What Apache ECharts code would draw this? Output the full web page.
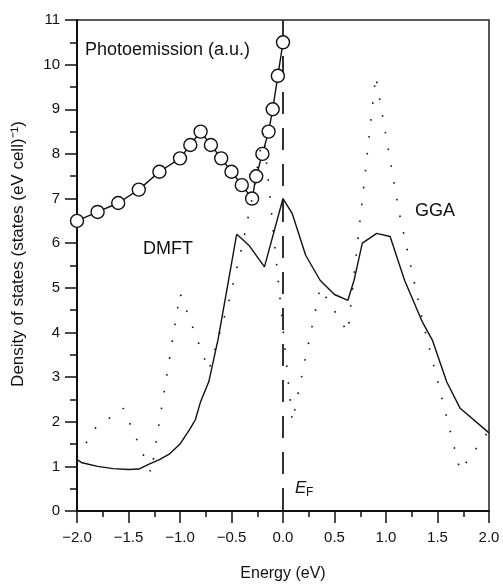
<!DOCTYPE html>
<html>
<head>
<meta charset="utf-8">
<script src="https://cdn.jsdelivr.net/npm/echarts@6/dist/echarts.min.js"></script>
<style>
  html, body { margin: 0; padding: 0; background: #fff; }
  #chart { width: 503px; height: 584px; }
</style>
</head>
<body>
<div id="chart"></div>
<script>
// photoemission points (open circles)
var photoX = [-2.0, -1.8, -1.6, -1.4, -1.2, -1.0, -0.9, -0.8, -0.7, -0.6, -0.5, -0.4, -0.3, -0.26, -0.2, -0.14, -0.1, -0.05, 0.0];
var photoY = [6.5, 6.7, 6.9, 7.2, 7.6, 7.9, 8.2, 8.5, 8.2, 7.9, 7.6, 7.3, 7.0, 7.5, 8.0, 8.5, 9.0, 9.75, 10.5];

// DMFT (solid)
var dmftX = [-2.0, -1.95, -1.8, -1.65, -1.5, -1.4, -1.3, -1.2, -1.1, -1.0, -0.9, -0.85, -0.8, -0.72, -0.63, -0.53, -0.45, -0.4, -0.33, -0.18, 0.0, 0.09, 0.22, 0.36, 0.5, 0.63, 0.69, 0.77, 0.91, 1.04, 1.18, 1.35, 1.45, 1.59, 1.72, 2.0];
var dmftY = [1.15, 1.08, 1.0, 0.95, 0.93, 0.94, 1.05, 1.15, 1.28, 1.5, 1.85, 2.05, 2.45, 2.9, 3.85, 5.15, 6.2, 6.1, 5.95, 5.47, 7.0, 6.66, 5.73, 5.17, 4.85, 4.72, 5.17, 6.0, 6.22, 6.15, 5.17, 4.25, 3.83, 2.89, 2.3, 1.75];

// GGA (dotted)
var ggaX = [-2.0, -1.82, -1.55, -1.28, -1.0, -0.72, -0.53, -0.4, -0.3, -0.19, 0.09, 0.36, 0.63, 0.9, 1.13, 1.36, 1.72, 2.0];
var ggaY = [1.2, 1.86, 2.3, 0.85, 4.88, 3.15, 4.66, 5.9, 7.0, 8.5, 2.0, 5.0, 4.0, 9.75, 6.66, 4.21, 0.9, 1.8];

// Fermi level marker
var efX = [0, 0];
var efY = [11, 0];

var xTicks = { min: -2, max: 2, step: 0.5 };
var yTicks = { min: 0, max: 11, step: 1 };

function pairs(xs, ys) {
    var out = [];
    for (var i = 0; i < xs.length; i++) out.push([xs[i], ys[i]]);
    return out;
}

var FONT = '"Liberation Sans", Arial, Helvetica, sans-serif';

var myChart = echarts.init(document.getElementById('chart'), null, { renderer: 'canvas' });

var option = {
    animation: false,
    backgroundColor: '#fff',
    grid: {
        left: 77,
        right: 14,
        top: 20,
        bottom: 73,
        outerBoundsMode: 'none',
        show: true,
        borderColor: '#222',
        borderWidth: 1.5
    },
    xAxis: {
        type: 'value',
        min: xTicks.min,
        max: xTicks.max,
        interval: xTicks.step,
        name: 'Energy (eV)',
        nameLocation: 'middle',
        nameGap: 55,
        nameTextStyle: { fontFamily: FONT, fontSize: 16, color: '#111' },
        axisLine: { onZero: false, lineStyle: { color: '#111', width: 2 } },
        axisTick: { show: true, inside: false, length: 12, lineStyle: { color: '#111', width: 1.5 } },
        minorTick: { show: true, splitNumber: 2, length: 6, lineStyle: { color: '#111', width: 1.5 } },
        splitLine: { show: false },
        axisLabel: {
            margin: 19,
            fontFamily: FONT,
            fontSize: 15,
            color: '#111',
            formatter: function (v) {
                var s = Math.abs(v).toFixed(1);
                return v < 0 ? '\u2212' + s : s;
            }
        }
    },
    yAxis: {
        type: 'value',
        min: yTicks.min,
        max: yTicks.max,
        interval: yTicks.step,
        axisLine: { onZero: false, lineStyle: { color: '#111', width: 2 } },
        axisTick: { show: true, inside: false, length: 12, lineStyle: { color: '#111', width: 1.5 } },
        minorTick: { show: true, splitNumber: 2, length: 7, lineStyle: { color: '#111', width: 1.5 } },
        splitLine: { show: false },
        axisLabel: { margin: 17, fontFamily: FONT, fontSize: 15, color: '#111' }
    },
    series: [
        {
            name: 'EF',
            type: 'line',
            data: pairs(efX, efY),
            symbol: 'none',
            z: 1,
            lineStyle: { color: '#333', width: 2, type: [22, 14] }
        },
        {
            name: 'DMFT',
            type: 'line',
            data: pairs(dmftX, dmftY),
            symbol: 'none',
            z: 2,
            lineStyle: { color: '#111', width: 1.4 }
        },
        {
            name: 'Photoemission',
            type: 'line',
            data: pairs(photoX, photoY),
            symbol: 'circle',
            symbolSize: 13,
            showAllSymbol: true,
            z: 3,
            itemStyle: { color: '#fff', borderColor: '#111', borderWidth: 1.4 },
            lineStyle: { color: '#111', width: 1.4 }
        },
        {
            name: 'GGA',
            type: 'line',
            data: pairs(ggaX, ggaY),
            symbol: 'none',
            z: 4,
            lineStyle: { color: '#111', width: 1.6, type: [1.6, 15.4] }
        }
    ],
    graphic: [
        // y axis title, rotated
        {
            type: 'text', x: 18, y: 254, rotation: Math.PI / 2,
            style: {
                text: 'Density of states (states (eV cell)\u207B\u00B9)',
                font: '17px ' + FONT, fill: '#111',
                textAlign: 'center', textVerticalAlign: 'middle'
            }
        },
        { type: 'text', left: 85, top: 41, style: { text: 'Photoemission (a.u.)', font: '18px ' + FONT, fill: '#111' } },
        { type: 'text', left: 143, top: 240, style: { text: 'DMFT', font: '18px ' + FONT, fill: '#111' } },
        { type: 'text', left: 415, top: 202, style: { text: 'GGA', font: '18px ' + FONT, fill: '#111' } },
        { type: 'text', left: 295, top: 480, style: { text: 'E', font: 'italic 17px ' + FONT, fill: '#111' } },
        { type: 'text', left: 306, top: 487, style: { text: 'F', font: '12px ' + FONT, fill: '#111' } }
    ]
};

myChart.setOption(option);
</script>
</body>
</html>
